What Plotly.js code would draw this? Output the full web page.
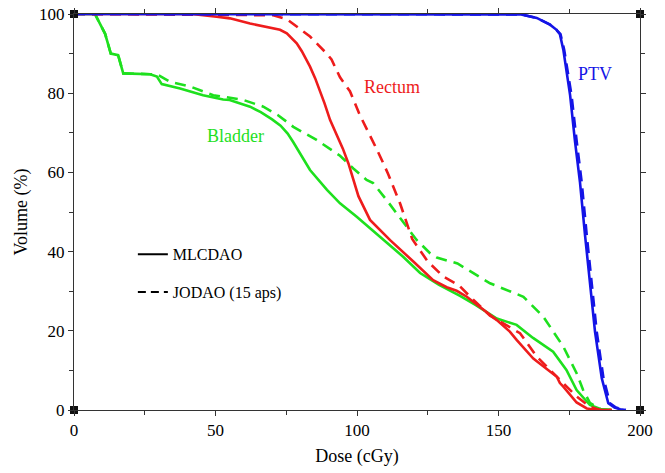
<!DOCTYPE html>
<html>
<head>
<meta charset="utf-8">
<script src="https://cdn.plot.ly/plotly-3.0.1.min.js"></script>
<style>html,body{margin:0;padding:0;background:#fff;}#chart{width:665px;height:473px;}</style>
</head>
<body>
<div id="chart"></div>
<script>
// Bladder
var bladderMlcX = [0,7.4,11,13,15.6,17.4,26.9,29.3,31,37.5,45.6,52.7,55,62.2,66,70,73,75.5,77.5,80,83.4,89.4,92.8,94,99.9,108,116.3,122.3,129,136.4,142,149.4,156.4,162.2,169.3,174,177.6,182.3,186,190];
var bladderMlcY = [100,100,95,90,89.6,85,84.8,84.2,82.3,81.2,79.5,78.4,78.3,76.6,75.2,73.4,71.8,69.8,67.6,64.6,60.6,55.6,53,52.2,48.8,43.8,38.7,34.6,31.6,28.8,26.5,23.1,21.5,18.2,14.7,10.1,5.05,1.26,0.25,0];
var bladderJoX = [0,7.4,11,13,15.6,17.4,26.9,29.7,33.9,41,49.2,59.8,66.9,72,77.5,85.7,94,98.7,103.4,105.7,110.5,114,118.7,121,125.8,128.2,135.5,147,158.8,165.8,172.9,177.6,179.9,182.3,186,190];
var bladderJoY = [100,100,95,90,89.6,85,84.8,84.6,82.9,81.7,79.5,78.3,76.6,74.5,71.5,68.2,64.2,61,58.1,57.3,53,49.7,45.2,43,39.6,38.5,37,32,28.6,23.6,16,9.3,5.05,1.8,0.2,0];
// Rectum
var rectumMlcX = [0,41.6,50.4,55.1,62.2,72.8,75.2,78.7,80.5,83.4,85.2,86.9,88.5,90.5,93,95,97,98.6,100.5,104.6,111.7,119.9,126.9,131.7,135.2,138.8,145.8,149.4,154,156.4,162.3,170.6,171.7,172.9,177.6,181.2,184.7,190];
var rectumMlcY = [100,100,99.3,98.9,97.6,96,95.1,92.6,90.6,86.7,83.8,80.8,77.5,73.2,69.2,66,62.2,58.4,54,48,42.9,37.5,32.8,31,30.1,28.6,24.8,22.7,19.8,17.7,13,8.4,6.8,5.9,1.9,0.4,0,0];
var rectumJoX = [0,70.4,75.2,83.4,89.3,91,94,97.5,101,104.6,107,109.3,111,115.2,119.5,125,130.5,136,140,147,157.6,163.5,172.9,177.6,182.3,186,190];
var rectumJoY = [100,99.7,98.7,94.3,90,88.5,84,80.5,74.5,69.5,65.8,62.3,59.6,52.2,43.2,37.5,33.7,31.5,28.6,23.8,19.4,13.5,6.7,3.4,0.8,0,0];
// PTV
var ptvMlcX = [0,155,158,163.5,168.2,170.5,171.7,172.9,173.5,175.3,177,178.8,180.6,182.3,184.1,186.5,188.8,191,193,195];
var ptvMlcY = [100,100,99.9,99,97.3,96,94.9,91,88,79.5,68,57.5,44,31.6,19.8,8,1.7,0.6,0.2,0];
var ptvJoX = [0,155,158,163.5,168.2,170.5,171.9,173.2,173.9,175.8,177.6,179.4,181.2,182.9,184.7,187.1,189.4,191.5,193.3,195];
var ptvJoY = [100,100,99.9,99,97.3,96,94.9,91,88,79.5,68,57.5,44,31.6,19.8,8,1.7,0.6,0.2,0];

var structNames = ['Bladder','Rectum','PTV'];
var structColors = ['#1ee01e','#ee1c1c','#1414e6'];
var labelX = [57.2,112.4,184.1];
var labelY = [69.2,81.6,84.8];
var legendNames = ['MLCDAO','JODAO (15 aps)'];
var cornersX = [0,0,200,200];
var cornersY = [0,100,0,100];

var dashStyle = '11px,7px';
function curve(x,y,color,dashed){
  return {x:x,y:y,type:'scatter',mode:'lines',showlegend:false,hoverinfo:'skip',
    line:{color:color,width:2.6,dash:dashed?dashStyle:'solid'}};
}
var data = [
  curve(bladderJoX,bladderJoY,structColors[0],true),
  curve(bladderMlcX,bladderMlcY,structColors[0],false),
  curve(rectumJoX,rectumJoY,structColors[1],true),
  curve(rectumMlcX,rectumMlcY,structColors[1],false),
  curve(ptvJoX,ptvJoY,structColors[2],true),
  curve(ptvMlcX,ptvMlcY,structColors[2],false),
  {x:[null],y:[null],type:'scatter',mode:'lines',name:legendNames[0],legendgroup:'a',line:{color:'#000',width:2}},
  {x:[null],y:[null],type:'scatter',mode:'lines',name:legendNames[1],legendgroup:'b',line:{color:'#000',width:2,dash:'8px,5px'}},
  {x:cornersX,y:cornersY,type:'scatter',mode:'markers',showlegend:false,hoverinfo:'skip',cliponaxis:false,
    marker:{symbol:'square',size:8,color:'#111'}}
];
var annotations = structNames.map(function(n,i){
  return {x:labelX[i],y:labelY[i],xref:'x',yref:'y',text:n,showarrow:false,
    font:{family:'Liberation Serif, serif',size:18,color:structColors[i]}};
});
var axisCommon = {showgrid:false,zeroline:false,showline:true,linecolor:'#333',linewidth:1,
  mirror:'ticks',ticks:'outside',ticklen:5,tickcolor:'#333',tickwidth:1,
  tickfont:{family:'Liberation Serif, serif',size:17,color:'#000'}};
var layout = {
  width:665,height:473,paper_bgcolor:'#fff',plot_bgcolor:'#fff',
  margin:{l:74,r:25,t:14,b:63},
  showlegend:true,
  legend:{x:0.104,y:0.436,xanchor:'left',yanchor:'top',bgcolor:'rgba(0,0,0,0)',traceorder:'grouped',tracegroupgap:14,
    font:{family:'Liberation Serif, serif',size:16,color:'#000'}},
  xaxis:Object.assign({},axisCommon,{range:[0,200],dtick:50,tick0:0,
    minor:{dtick:25,ticks:'outside',ticklen:4,tickcolor:'#333'},
    title:{text:'Dose (cGy)',font:{family:'Liberation Serif, serif',size:18,color:'#000'},standoff:9}}),
  yaxis:Object.assign({},axisCommon,{range:[0,100],dtick:20,tick0:0,
    minor:{dtick:10,ticks:'outside',ticklen:4,tickcolor:'#333'},
    title:{text:'Volume (%)',font:{family:'Liberation Serif, serif',size:18,color:'#000'},standoff:6}}),
  annotations:annotations
};
Plotly.newPlot('chart',data,layout,{displayModeBar:false,staticPlot:true});
</script>
</body>
</html>
